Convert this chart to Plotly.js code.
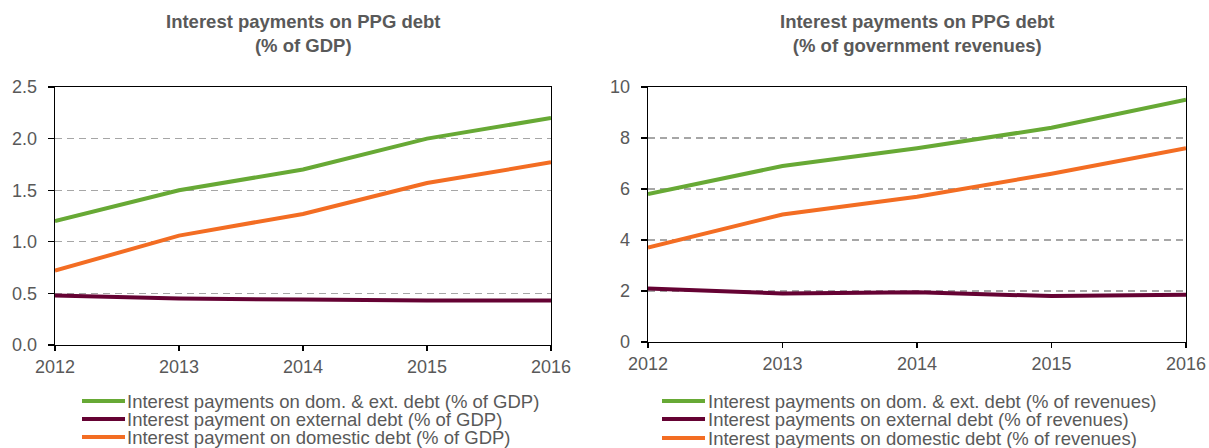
<!DOCTYPE html>
<html>
<head>
<meta charset="utf-8">
<script src="https://cdn.plot.ly/plotly-3.0.1.min.js"></script>
<style>html,body{margin:0;padding:0;background:#fff;}#chart{width:1209px;height:448px;}</style>
</head>
<body>
<div id="chart"></div>
<script>
const years = [2012, 2013, 2014, 2015, 2016];

// % of GDP
const gdpTotal    = [1.20, 1.50, 1.70, 2.00, 2.20];
const gdpExternal = [0.48, 0.45, 0.44, 0.43, 0.43];
const gdpDomestic = [0.72, 1.06, 1.27, 1.57, 1.77];

// % of government revenues
const revTotal    = [5.8, 6.9, 7.6, 8.4, 9.5];
const revExternal = [2.1, 1.9, 1.95, 1.8, 1.85];
const revDomestic = [3.7, 5.0, 5.7, 6.6, 7.6];

const namesGdp = [
  "Interest payments on dom. & ext. debt (% of GDP)",
  "Interest payment on external debt (% of GDP)",
  "Interest payment on domestic debt (% of GDP)"
];
const namesRev = [
  "Interest payments on dom. & ext. debt (% of revenues)",
  "Interest payments on external debt (% of revenues)",
  "Interest payments on domestic debt (% of revenues)"
];
const titles = [
  "Interest payments on PPG debt<br>(% of GDP)",
  "Interest payments on PPG debt<br>(% of government revenues)"
];

const GREEN = "#67a935", PURPLE = "#650233", ORANGE = "#f36d23";
const COLORS = [GREEN, PURPLE, ORANGE];
const TXT = "#595959";
const FONT = "Liberation Sans, Arial, sans-serif";
const W = 1209, H = 448;

function tr(y, name, color, xa, ya) {
  return {x: years, y: y, name: name, type: "scatter", mode: "lines",
          line: {color: color, width: 4}, xaxis: xa, yaxis: ya,
          hoverinfo: "skip", showlegend: false};
}

const data = [
  tr(gdpTotal, namesGdp[0], GREEN, "x", "y"),
  tr(gdpExternal, namesGdp[1], PURPLE, "x", "y"),
  tr(gdpDomestic, namesGdp[2], ORANGE, "x", "y"),
  tr(revTotal, namesRev[0], GREEN, "x2", "y2"),
  tr(revExternal, namesRev[1], PURPLE, "x2", "y2"),
  tr(revDomestic, namesRev[2], ORANGE, "x2", "y2")
];

const xBase = {
  range: [2012, 2016], tickvals: years, ticktext: years.map(String),
  showgrid: false, zeroline: false, showline: true, linecolor: "#000", linewidth: 1.3,
  mirror: true, ticks: "outside", ticklen: 5, tickcolor: "#000", tickwidth: 1.3,
  ticklabelstandoff: 0,
  tickfont: {family: FONT, size: 18, color: TXT}
};
const yBase = {
  showgrid: true, gridcolor: "#a6a6a6", griddash: "7px,5px", gridwidth: 1.2,
  zeroline: false, showline: true, linecolor: "#000", linewidth: 1.3, mirror: true,
  ticks: "outside", ticklen: 6, tickcolor: "#000", tickwidth: 1.3,
  ticklabelstandoff: 7,
  tickfont: {family: FONT, size: 18, color: TXT}
};

// legend drawn as text + line samples
const annotations = [];
const shapes = [];
function legendBlock(names, lineX0, lineX1, textX, rowsY) {
  names.forEach((n, i) => {
    shapes.push({type: "line", xref: "paper", yref: "paper",
      x0: lineX0 / W, x1: lineX1 / W, y0: 1 - rowsY[i] / H, y1: 1 - rowsY[i] / H,
      line: {color: COLORS[i], width: 4}});
    annotations.push({text: n, xref: "paper", yref: "paper", x: textX / W, y: 1 - rowsY[i] / H,
      xanchor: "left", yanchor: "middle", showarrow: false,
      font: {family: FONT, size: 18.5, color: TXT}});
  });
}
legendBlock(namesGdp, 82, 125, 125, [401, 419, 437]);
legendBlock(namesRev, 662, 705, 706, [401, 419, 438]);

annotations.push(
  {text: "<b>" + titles[0] + "</b>", xref: "paper", yref: "paper",
   x: 303 / W, y: 1 - 9 / H, xanchor: "center", yanchor: "top", showarrow: false,
   font: {family: FONT, size: 18.5, color: TXT}},
  {text: "<b>" + titles[1] + "</b>", xref: "paper", yref: "paper",
   x: 917 / W, y: 1 - 9 / H, xanchor: "center", yanchor: "top", showarrow: false,
   font: {family: FONT, size: 18.5, color: TXT}}
);

const layout = {
  width: W, height: H,
  margin: {l: 0, r: 0, t: 0, b: 0, autoexpand: false},
  paper_bgcolor: "#fff", plot_bgcolor: "#fff",
  font: {family: FONT, color: TXT},
  showlegend: false,
  xaxis: Object.assign({}, xBase, {domain: [55 / W, 551 / W], anchor: "y"}),
  yaxis: Object.assign({}, yBase, {domain: [1 - 345 / H, 1 - 87 / H], anchor: "x",
          range: [0, 2.5], tickvals: [0, 0.5, 1.0, 1.5, 2.0, 2.5],
          ticktext: ["0.0", "0.5", "1.0", "1.5", "2.0", "2.5"]}),
  xaxis2: Object.assign({}, xBase, {domain: [648 / W, 1186 / W], anchor: "y2"}),
  yaxis2: Object.assign({}, yBase, {domain: [1 - 342 / H, 1 - 87 / H], anchor: "x2",
          range: [0, 10], tickvals: [0, 2, 4, 6, 8, 10]}),
  annotations: annotations,
  shapes: shapes
};

Plotly.newPlot("chart", data, layout, {displayModeBar: false, staticPlot: true});
</script>
</body>
</html>
